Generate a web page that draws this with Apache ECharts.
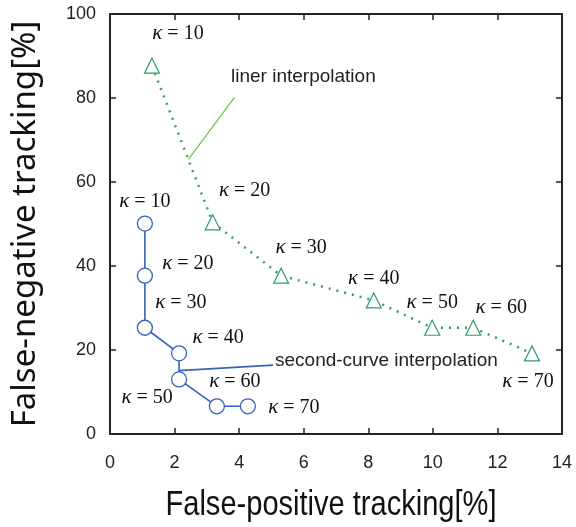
<!DOCTYPE html>
<html>
<head>
<meta charset="utf-8">
<script src="https://cdn.jsdelivr.net/npm/echarts@6/dist/echarts.min.js"></script>
<style>
  html, body { margin: 0; padding: 0; background: #fff; }
  #chart { width: 576px; height: 527px; }
</style>
</head>
<body>
<div id="chart"></div>
<script>
// kappa values for both methods
const kappas = [10, 20, 30, 40, 50, 60, 70];
// linear interpolation (green triangles)
const linerFP = [1.30, 3.18, 5.30, 8.17, 9.98, 11.25, 13.07];
const linerFN = [87.7, 50.4, 37.7, 31.8, 25.3, 25.3, 19.2];
// second-curve interpolation (blue circles)
const curveFP = [1.08, 1.08, 1.08, 2.14, 2.14, 3.31, 4.27];
const curveFN = [50.1, 37.7, 25.3, 19.2, 13.0, 6.6, 6.6];

// label offsets (px) for each kappa label
const linerOffs = [[26, -32], [32, -32], [20, -28], [0, -22], [0, -25], [28, -20], [-4, 28]];
const curveOffs = [[0, -22], [43, -12], [36, -25], [39, -16], [-32, 18], [18, -25], [46, 1]];

const font = '"Liberation Sans", Arial, sans-serif';
const rich = {
  k: { fontFamily: '"Liberation Serif", serif', fontStyle: 'italic', fontSize: 21, color: '#111' },
  t: { fontFamily: '"Liberation Serif", serif', fontSize: 20, color: '#111' }
};

function makeData(xs, ys, offs) {
  return xs.map((x, i) => ({
    value: [x, ys[i]],
    label: { offset: offs[i] }
  }));
}

const chart = echarts.init(document.getElementById('chart'));
const axisCommon = {
  axisLine: { show: true, onZero: false, lineStyle: { color: '#222', width: 2 } },
  axisTick: { show: true, inside: true, length: 6, lineStyle: { color: '#222', width: 1.5 } },
  splitLine: { show: false }
};

chart.setOption({
  animation: false,
  grid: { left: 110, right: 14, top: 14, bottom: 93 },
  xAxis: [
    Object.assign({
      type: 'value', min: 0, max: 14, interval: 2, position: 'bottom',
      axisLabel: { fontFamily: font, fontSize: 18, color: '#222', margin: 20 }
    }, axisCommon),
    Object.assign({
      type: 'value', min: 0, max: 14, interval: 2, position: 'top',
      axisLabel: { show: false }
    }, axisCommon)
  ],
  yAxis: [
    Object.assign({
      type: 'value', min: 0, max: 100, interval: 20, position: 'left',
      name: 'False-negative tracking[%]', nameLocation: 'middle', nameGap: 68,
      nameTextStyle: { fontFamily: '"Noto Sans", "Open Sans", sans-serif', fontSize: 33, color: '#111' },
      axisLabel: { fontFamily: font, fontSize: 18, color: '#222', margin: 14 }
    }, axisCommon),
    Object.assign({
      type: 'value', min: 0, max: 100, interval: 20, position: 'right',
      axisLabel: { show: false }
    }, axisCommon)
  ],
  graphic: [
    { type: 'text', x: 331, y: 505, scaleX: 0.83,
      style: { text: 'False-positive tracking[%]', fontFamily: font, fontSize: 35, fill: '#111', align: 'center', verticalAlign: 'middle' } },
    { type: 'text', left: 231, top: 67, style: { text: 'liner interpolation', fontFamily: font, fontSize: 19, fill: '#222' } },
    { type: 'text', left: 275, top: 351, style: { text: 'second-curve interpolation', fontFamily: font, fontSize: 19, fill: '#222' } }
  ],
  series: [
    {
      type: 'line',
      data: makeData(linerFP, linerFN, linerOffs),
      symbol: 'triangle', symbolSize: 15,
      itemStyle: { color: '#fff', borderColor: '#2e9e6a', borderWidth: 1.2 },
      lineStyle: { color: '#2e9e6a', width: 2.5, type: [2, 6] },
      label: {
        show: true, position: 'inside',
        formatter: p => '{k|κ}{t| = ' + kappas[p.dataIndex] + '}', rich: rich
      },
      markLine: {
        silent: true, symbol: 'none', label: { show: false },
        lineStyle: { color: '#6cc04a', width: 1.2, type: 'solid' },
        data: [[{ coord: [2.43, 65.4] }, { coord: [3.85, 80.1] }]]
      },
      z: 3
    },
    {
      type: 'line',
      data: makeData(curveFP, curveFN, curveOffs),
      symbol: 'circle', symbolSize: 15,
      itemStyle: { color: '#fff', borderColor: '#3562b8', borderWidth: 1.3 },
      lineStyle: { color: '#3562b8', width: 1.6 },
      label: {
        show: true, position: 'inside',
        formatter: p => '{k|κ}{t| = ' + kappas[p.dataIndex] + '}', rich: rich
      },
      markLine: {
        silent: true, symbol: 'none', label: { show: false },
        lineStyle: { color: '#3562b8', width: 1.6, type: 'solid' },
        data: [[{ coord: [2.14, 15.1] }, { coord: [5.05, 16.4] }]]
      },
      z: 4
    }
  ]
});
</script>
</body>
</html>
